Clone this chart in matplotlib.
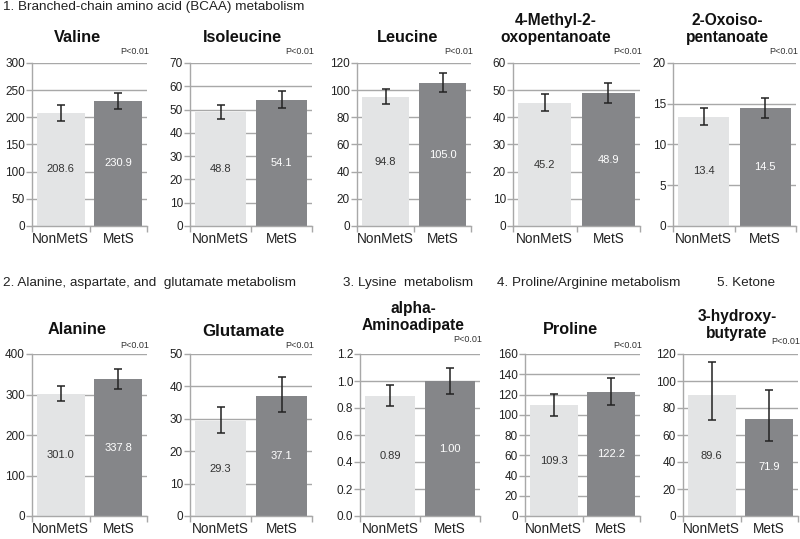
import matplotlib
matplotlib.use("Agg")
import matplotlib.pyplot as plt
import numpy as np

plt.rcParams['font.family'] = ['Liberation Sans', 'DejaVu Sans']

# ---------------- data ----------------
categories = ["NonMetS", "MetS"]
titles = ["Valine", "Isoleucine", "Leucine", "4-Methyl-2-\noxopentanoate", "2-Oxoiso-\npentanoate",
          "Alanine", "Glutamate", "alpha-\nAminoadipate", "Proline", "3-hydroxy-\nbutyrate"]
nonmets_vals = [208.6, 48.8, 94.8, 45.2, 13.4, 301.0, 29.3, 0.89, 109.3, 89.6]
mets_vals = [230.9, 54.1, 105.0, 48.9, 14.5, 337.8, 37.1, 1.00, 122.2, 71.9]
nonmets_lo = [193, 46.0, 89.8, 42.3, 12.4, 283, 25.6, 0.815, 99, 71]
nonmets_hi = [222, 52.0, 100.9, 48.7, 14.5, 322, 33.6, 0.970, 120.5, 114]
mets_lo = [216, 50.5, 98.9, 45.3, 13.3, 314, 32.0, 0.905, 110, 55.5]
mets_hi = [244, 58.0, 112.4, 52.8, 15.7, 364, 43.0, 1.095, 136, 93]
y_max = [300, 70, 120, 60, 20, 400, 50, 1.2, 160, 120]
y_step = [50, 10, 20, 10, 5, 100, 10, 0.2, 20, 20]
value_fmt = ["%.1f"] * 7 + ["%.2f"] + ["%.1f"] * 2
p_text = "P<0.01"
sections = ["1. Branched-chain amino acid (BCAA) metabolism",
            "2. Alanine, aspartate, and  glutamate metabolism",
            "3. Lysine  metabolism",
            "4. Proline/Arginine metabolism",
            "5. Ketone"]

# ---------------- layout (pixels) ----------------
W, H = 800, 539
fig = plt.figure(figsize=(8, 5.39), dpi=100)
fig.patch.set_facecolor("white")

ax_lr = [(32, 147), (190, 312), (357, 471), (513, 640), (673, 796),
         (32, 147), (190, 312), (360, 480), (525, 640), (683, 798)]
row_tb = [(63, 226)] * 5 + [(354, 516)] * 5
title_pos = [(77, 38), (242, 38), (408, 38), (556, 29), (727, 29),
             (77, 329), (243, 331), (413, 317), (570, 329), (737, 325)]
title_size = [11.7, 11.7, 11.7, 11.2, 11.2, 11.7, 12.2, 11.2, 11.7, 11.2]
p_y = [51, 51, 51, 51, 51, 346, 346, 340, 346, 342]
section_pos = [(3, 7, "left"), (3, 283, "left"), (343, 283, "left"),
               (497, 283, "left"), (717, 283, "left")]

c_non = "#e3e4e5"
c_met = "#858689"
c_grid = "#a8a8a8"

def fx(px):
    return px / W

def fy(py):
    return 1 - py / H

for i in range(10):
    l, r = ax_lr[i]
    t, b = row_tb[i]
    ax = fig.add_axes([fx(l), fy(b), (r - l) / W, (b - t) / H])
    x = np.arange(len(categories))
    vals = [nonmets_vals[i], mets_vals[i]]
    lo = [nonmets_lo[i], mets_lo[i]]
    hi = [nonmets_hi[i], mets_hi[i]]
    ax.bar(x, vals, width=0.83, color=[c_non, c_met], zorder=2)
    yerr = np.array([[v - a for v, a in zip(vals, lo)], [b_ - v for v, b_ in zip(vals, hi)]])
    ax.errorbar(x, vals, yerr=yerr, fmt="none", ecolor="#222222", elinewidth=1.1,
                capsize=3.2, capthick=1.1, zorder=3)
    for xi, v, col in zip(x, vals, ["#333333", "white"]):
        ax.text(xi, v / 2, value_fmt[i] % v, ha="center", va="center", fontsize=8,
                color=col, zorder=4)
    ax.set_xlim(-0.5, 1.5)
    ax.set_ylim(0, y_max[i])
    ticks = np.arange(0, y_max[i] + y_step[i] / 2, y_step[i])
    ax.set_yticks(ticks)
    if i == 7:
        ax.set_yticklabels(["%.1f" % v for v in ticks])
    else:
        ax.set_yticklabels(["%d" % round(v) for v in ticks])
    ax.yaxis.grid(True, color=c_grid, linewidth=1.0, zorder=0)
    ax.set_axisbelow(True)
    ax.set_xticks(x)
    ax.set_xticklabels(categories, fontsize=9.8)
    ax.set_xticks([-0.5, 0.5, 1.5], minor=True)
    ax.tick_params(axis="x", which="major", length=0, pad=4, colors="#222222")
    ax.tick_params(axis="x", which="minor", length=4, color=c_grid, width=1)
    ax.tick_params(axis="y", length=4, color=c_grid, width=1, pad=1, labelsize=8.5,
                   colors="#222222")
    ax.tick_params(axis="y", which="both", color=c_grid)
    for s in ["top", "right"]:
        ax.spines[s].set_visible(False)
    for s in ["left", "bottom"]:
        ax.spines[s].set_color(c_grid)
        ax.spines[s].set_linewidth(1.0)
    fig.text(fx(r + 2), fy(p_y[i]), p_text, ha="right", va="center", fontsize=6.5,
             color="#333333")
    tx, ty = title_pos[i]
    fig.text(fx(tx), fy(ty), titles[i], ha="center", va="center", fontsize=title_size[i],
             fontweight="bold", color="#111111", linespacing=1.15)

for (sx, sy, ha), s in zip(section_pos, sections):
    fig.text(fx(sx), fy(sy), s, ha=ha, va="center", fontsize=9.7, color="#222222")

fig.savefig("out.png", dpi=100, facecolor="white")
